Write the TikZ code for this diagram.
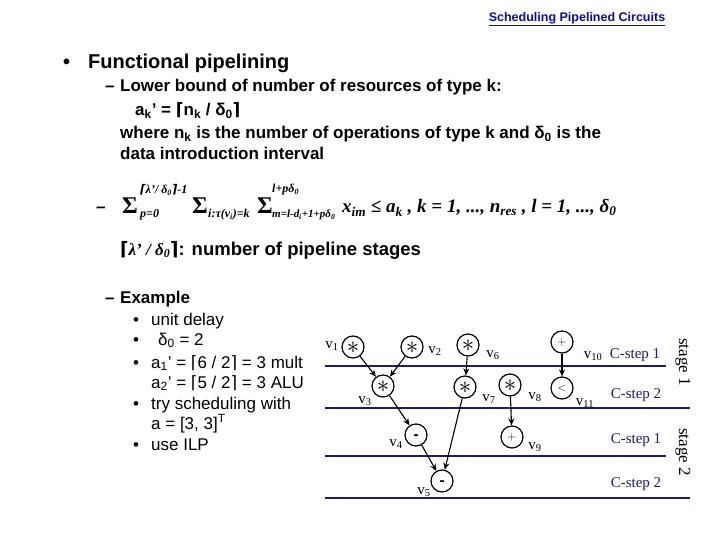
\documentclass[tikz,border=0pt]{standalone}
\usepackage{fontspec}
\setmainfont{Liberation Sans}
\newfontfamily\tmsfont{Liberation Serif}
\newfontfamily\djfont{DejaVu Sans}
\usetikzlibrary{arrows.meta}
\definecolor{navy}{RGB}{28,28,112}
\definecolor{ttl}{RGB}{10,10,170}
\newcommand\myfs[1]{\fontsize{#1}{#1}\selectfont}
\newcommand\ceilL{{\djfont\bfseries ⌈}}
\newcommand\ceilR{{\djfont\bfseries ⌉}}
\tikzset{
  txt/.style={anchor=base west, inner sep=0pt, font=\myfs{17}\bfseries},
  sub/.style={anchor=base west, inner sep=0pt, font=\myfs{17}},
  fml/.style={anchor=base west, inner sep=0pt, font=\tmsfont\bfseries\itshape\myfs{19}},
  sig/.style={anchor=base west, inner sep=0pt, font=\tmsfont\bfseries\myfs{24}},
  scr/.style={anchor=base west, inner sep=0pt, font=\tmsfont\bfseries\itshape\myfs{12}},
  op/.style={circle, draw, line width=1.2pt, minimum size=22pt, inner sep=0pt},
  vl/.style={inner sep=0pt, font=\tmsfont\myfs{15}},
  cs/.style={inner sep=0pt, font=\tmsfont\myfs{15}, text=navy},
  stg/.style={inner sep=0pt, font=\tmsfont\myfs{17}, rotate=-90},
  hl/.style={navy, line width=1.8pt},
  arr/.style={line width=1.1pt, -{Stealth[length=7pt,width=6pt]}}
}
\begin{document}
\begin{tikzpicture}[x=1pt,y=-1pt]
\useasboundingbox (0,0) rectangle (720,540);
% title
\node[inner sep=0pt, font=\myfs{12.5}\bfseries, text=ttl] (title) at (577,19) {\underline{Scheduling Pipelined Circuits}};
% main bullet
\node[txt, font=\myfs{20}\bfseries] (b1) at (63,69) {\textbullet};
\node[txt, font=\myfs{20}\bfseries] (t1) at (88,69) {Functional pipelining};
\node[txt] (d1) at (105,92) {–};
\node[txt] (t2) at (120,92) {Lower bound of number of resources of type k:};
\node[txt] (t3) at (135,116) {a\textsubscript{k}’ = \ceilL n\textsubscript{k} / δ\textsubscript{0}\ceilR};
\node[txt] (t4) at (120,139) {where n\textsubscript{k} is the number of operations of type k and δ\textsubscript{0} is the};
\node[txt] (t5) at (120,160) {data introduction interval};
% formula
\node[txt] (d2) at (96,213) {–};
\node[sig] (s1) at (122,214) {Σ};
\node[scr] (s1u) at (140,194) {\ceilL λ’/ δ\textsubscript{0}\ceilR-1};
\node[scr] (s1d) at (140,218) {p=0};
\node[sig] (s2) at (192,214) {Σ};
\node[scr] (s2d) at (208,218) {i:τ(v\textsubscript{i})=k};
\node[sig] (s3) at (257,214) {Σ};
\node[scr] (s3u) at (272,193) {l+pδ\textsubscript{0}};
\node[scr, font=\tmsfont\bfseries\itshape\myfs{11}] (s3d) at (272,218) {m=l-d\textsubscript{i}+1+pδ\textsubscript{0}};
\node[fml] (f1) at (342,213) {x\textsubscript{im} ≤ a\textsubscript{k} ,};
\node[fml] (f2) at (417,213) {k = 1, ..., n\textsubscript{res} , l = 1, ..., δ\textsubscript{0}};
\node[txt, font=\myfs{18.5}\bfseries] (t6) at (120,255) {\ceilL{\tmsfont\bfseries\itshape\myfs{17}λ’ / δ\textsubscript{0}}\ceilR: number of pipeline stages};
% example
\node[txt] (d3) at (105,303) {–};
\node[txt] (t7) at (120,303) {Example};
\node[sub] (e1b) at (133,325) {\textbullet};
\node[sub] (e1) at (151,325) {unit delay};
\node[sub] (e2b) at (133,345) {\textbullet};
\node[sub] (e2) at (158,345) {δ\textsubscript{0} = 2};
\node[sub] (e3b) at (133,368) {\textbullet};
\node[sub] (e3) at (151,368) {a\textsubscript{1}’ = {\djfont ⌈}6 / 2{\djfont ⌉} = 3 mult};
\node[sub] (e4) at (151,388) {a\textsubscript{2}’ = {\djfont ⌈}5 / 2{\djfont ⌉} = 3 ALU};
\node[sub] (e5b) at (133,409) {\textbullet};
\node[sub] (e5) at (151,409) {try scheduling with};
\node[sub] (e6) at (151,429) {a = [3, 3]\textsuperscript{T}};
\node[sub] (e7b) at (133,450) {\textbullet};
\node[sub] (e7) at (151,450) {use ILP};
% horizontal lines
\coordinate (l1a) at (325,366); \coordinate (l1b) at (666,366);
\coordinate (l2a) at (325,408); \coordinate (l2b) at (690,408);
\coordinate (l3a) at (325,456); \coordinate (l3b) at (666,456);
\coordinate (l4a) at (325,498); \coordinate (l4b) at (690,498);
\draw[hl] (l1a) -- (l1b);
\draw[hl] (l2a) -- (l2b);
\draw[hl] (l3a) -- (l3b);
\draw[hl] (l4a) -- (l4b);
% operation nodes
\tikzset{
  mul/.style={op, font=\myfs{25}, text height=12.5pt, text depth=0pt},
  add/.style={op, font=\myfs{12}, text height=6pt, text depth=0pt},
  subt/.style={op, font=\myfs{15}\bfseries, text height=8pt, text depth=0pt}
}
\node[mul] (v1) at (353,347) {$\ast$};
\node[mul] (v2) at (412,347) {$\ast$};
\node[mul] (v6) at (468,345) {$\ast$};
\node[mul] (v3) at (383,386) {$\ast$};
\node[mul] (v7) at (465,387) {$\ast$};
\node[mul] (v8) at (510,385) {$\ast$};
\node[add] (v10) at (562,342) {$+$};
\node[add] (v11) at (562,388) {$<$};
\node[subt] (v4) at (416,435) {-};
\node[add] (v9) at (512,437) {$+$};
\node[subt] (v5) at (442,481) {-};
% edges
\draw[arr] (v1) -- (v3);
\draw[arr] (v2) -- (v3);
\draw[arr] (v6) -- (v7);
\draw[arr] (v3) -- (v4);
\draw[arr] (v4) -- (v5);
\draw[arr] (v7) -- (v5);
\draw[arr] (v8) -- (v9);
\draw[arr] (v10) -- (v11);
% labels
\node[vl] (n1) at (332,346) {v\textsubscript{1}};
\node[vl] (n2) at (435,351) {v\textsubscript{2}};
\node[vl] (n6) at (493,355) {v\textsubscript{6}};
\node[vl] (n3) at (365,401) {v\textsubscript{3}};
\node[vl] (n7) at (489,399) {v\textsubscript{7}};
\node[vl] (n8) at (535,397) {v\textsubscript{8}};
\node[vl] (n10) at (593,356) {v\textsubscript{10}};
\node[vl] (n11) at (585,403) {v\textsubscript{11}};
\node[vl] (n4) at (396,444) {v\textsubscript{4}};
\node[vl] (n9) at (535,447) {v\textsubscript{9}};
\node[vl] (n5) at (424,492) {v\textsubscript{5}};
% c-steps
\node[cs] (c1) at (635,355) {C-step 1};
\node[cs] (c2) at (636,395) {C-step 2};
\node[cs] (c3) at (636,440) {C-step 1};
\node[cs] (c4) at (636,484) {C-step 2};
\node[stg] (st1) at (683,362) {stage 1};
\node[stg] (st2) at (683,452) {stage 2};
\end{tikzpicture}
\end{document}
